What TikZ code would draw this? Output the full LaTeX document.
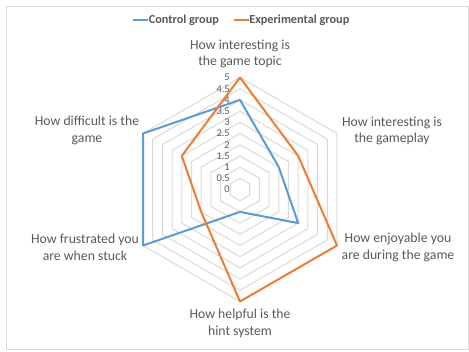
\documentclass[tikz,border=0pt]{standalone}
\usepackage{fontspec}
\setmainfont{Carlito}
\definecolor{cblue}{HTML}{5B9BD5}
\definecolor{corange}{HTML}{ED7D31}
\definecolor{tgray}{HTML}{595959}
\definecolor{ggray}{HTML}{D9D9D9}
\begin{document}
\begin{tikzpicture}[x=0.75pt,y=-0.75pt,
  grid/.style={draw=ggray,line width=0.75pt},
  frame/.style={draw=ggray,line width=0.75pt},
  series/.style={line width=1.5pt,line join=round},
  catlabel/.style={text=tgray,align=center,inner sep=0pt,font=\fontsize{10.3}{12.4}\selectfont},
  ticklabel/.style={text=tgray,anchor=east,inner sep=0pt,font=\fontsize{7.8}{8}\selectfont},
  legendtext/.style={text=tgray,anchor=west,inner sep=0pt,font=\fontsize{9.2}{11}\selectfont\bfseries},
  legendline/.style={line width=1.5pt}]
\useasboundingbox (0,0) rectangle (469,351);
\draw[frame] (6.5,6.5) rectangle (468,349);
% grid
\begin{scope}[shift={(240,189.5)}]
\foreach \k in {1,...,10}{
  \pgfmathsetmacro{\r}{11.2*\k}
  \draw[grid] (-90:\r) -- (-30:\r) -- (30:\r) -- (90:\r) -- (150:\r) -- (210:\r) -- cycle;
}
\foreach \k/\t in {0/0,1/0.5,2/1,3/1.5,4/2,5/2.5,6/3,7/3.5,8/4,9/4.5,10/5}{
  \node[ticklabel] (tick\k) at (-10,{-11.2*\k}) {\t};
}
% control group: 4,2,3,1,5,5
\draw[series,cblue] (-90:{22.4*4}) coordinate (c1) -- (-30:{22.4*2}) coordinate (c2)
  -- (30:{22.4*3}) coordinate (c3) -- (90:{22.4*1}) coordinate (c4)
  -- (150:{22.4*5}) coordinate (c5) -- (210:{22.4*5}) coordinate (c6) -- cycle;
% experimental group: 5,3,5,5,2,3
\draw[series,corange] (-90:{22.4*5}) coordinate (e1) -- (-30:{22.4*3}) coordinate (e2)
  -- (30:{22.4*5}) coordinate (e3) -- (90:{22.4*5}) coordinate (e4)
  -- (150:{22.4*2}) coordinate (e5) -- (210:{22.4*3}) coordinate (e6) -- cycle;
\end{scope}
% category labels
\node[catlabel] (topic) at (240,54) {How interesting is\\the game topic};
\node[catlabel] (gameplay) at (392,131) {How interesting is\\the gameplay};
\node[catlabel] (enjoy) at (398,247.5) {How enjoyable you\\are during the game};
\node[catlabel] (hint) at (240,323.3) {How helpful is the\\hint system};
\node[catlabel] (frustr) at (85,247.3) {How frustrated you\\are when stuck};
\node[catlabel] (diff) at (87,130.5) {How difficult is the\\game};
% legend
\coordinate (lb1) at (133,20);
\coordinate (lb2) at (148,20);
\draw[legendline,cblue] (lb1) -- (lb2);
\node[legendtext] (lctrl) at (148.5,20) {Control group};
\coordinate (lo1) at (234,20);
\coordinate (lo2) at (248.5,20);
\draw[legendline,corange] (lo1) -- (lo2);
\node[legendtext] (lexp) at (249,20) {Experimental group};
\end{tikzpicture}
\end{document}
